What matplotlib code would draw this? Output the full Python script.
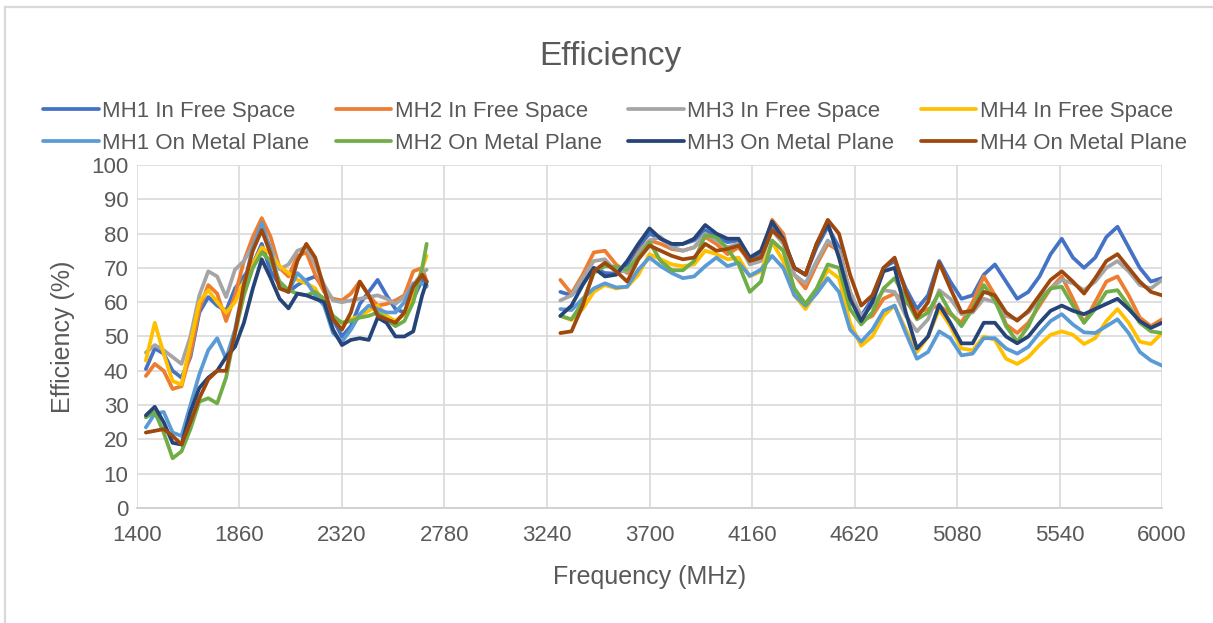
import matplotlib
matplotlib.use('Agg')
import matplotlib.pyplot as plt

plt.rcParams['font.family'] = ['Liberation Sans', 'DejaVu Sans']

# frequency samples (MHz) for the two measured bands
freq_low = [1440, 1480, 1520, 1560, 1600, 1640, 1680, 1720, 1760, 1800, 1840,
            1880, 1920, 1960, 2000, 2040, 2080, 2120, 2160, 2200, 2240, 2280,
            2320, 2360, 2400, 2440, 2480, 2520, 2560, 2600, 2640, 2680, 2700]
freq_high = list(range(3300, 6001, 50))

# efficiency (%)
mh1_free_low = [40.5, 46.5, 45, 40, 38, 44, 57, 61.5, 59, 57.5, 64, 67.5, 71, 77, 69, 65, 63,
                65, 66.5, 67.5, 64, 55, 50, 53, 59.5, 63, 66.5, 62, 58, 57, 61, 66.5, 65]
mh2_free_low = [38.5, 42, 40, 34.7, 35.5, 45, 58, 65, 62.5, 54.5, 62, 72, 79, 84.5, 79, 70, 67.5,
                73.5, 74.5, 68, 63, 61, 60.5, 62.5, 66, 62, 59, 59.5, 60.5, 62, 69, 70, 66]
mh3_free_low = [45.3, 47.5, 46, 44, 42, 50, 62, 69, 67.5, 61.5, 69.5, 72, 76.5, 81, 76, 69.6, 71,
                75, 76, 71, 65, 60.5, 60, 60.5, 61, 61.5, 62, 61, 59.5, 61.5, 65, 68.5, 69.5]
mh4_free_low = [43, 54, 45, 37, 36, 48, 60, 63.5, 60, 57, 60, 66, 71, 76, 74, 70.5, 68.5,
                66.5, 65.5, 64, 59, 55, 54, 55, 56, 57.5, 59, 56, 54.5, 56.5, 61, 70, 73.5]
mh1_metal_low = [23.5, 27.5, 28, 22, 21, 30, 39, 46, 49.5, 43.5, 52, 65, 76, 83, 75, 65, 63,
                 68.5, 66, 62, 59, 51, 48.5, 52, 56.5, 59, 58, 57, 57, 60, 65.5, 65.5, 64.5]
mh2_metal_low = [26.4, 28, 22, 14.5, 16.5, 23, 31, 32, 30.5, 38, 51, 62, 70, 74.5, 72, 66, 63.5,
                 62.5, 62, 63, 61, 56, 54, 54.5, 55.5, 56, 57, 55, 53, 54.5, 60, 70, 77]
mh3_metal_low = [27, 29.5, 25, 19, 18.5, 28, 35, 38, 40, 44, 47, 54, 64, 72.5, 67, 61, 58.2,
                 62.5, 62, 61, 60, 52, 47.5, 49, 49.5, 49, 55.5, 54, 50, 50, 51.5, 62, 66]
mh4_metal_low = [22, 22.5, 23, 21, 18.5, 25, 32, 37.5, 40, 40, 51, 65, 75, 81, 74, 64, 63,
                 72, 77, 73, 64, 55, 52, 57, 66, 62, 56, 55, 54, 57, 64.5, 68, 66]

mh1_free_high = [63, 62, 66, 70, 68.5, 68.3, 71, 76, 80, 78.5, 76.5, 77, 78, 81, 79, 77.5, 78, 73,
                 74, 82, 78, 70, 68, 76, 82, 76, 62, 56, 61, 70, 72, 64, 58, 62, 72, 66, 61, 62,
                 68, 71, 66, 61, 63, 67.5, 74, 78.5, 73, 70, 73, 79, 82, 76, 70, 66, 67]
mh2_free_high = [66.5, 62.5, 68, 74.5, 75, 71, 68.5, 74.5, 78, 77, 75.5, 75, 76, 79, 77, 74, 76,
                 72, 73, 84, 80, 68, 64, 71, 77, 75, 63, 54.5, 56, 61, 62.5, 60, 57, 58, 59, 56.5,
                 54, 60, 67.5, 62, 53.5, 51, 54, 59, 64, 67.5, 61, 54, 60, 66, 67.5, 62, 55.5, 53, 55]
mh3_free_high = [60.5, 62, 67, 72, 72.5, 69, 69, 74, 78, 79, 76, 75, 76, 80, 78, 76, 77, 71, 72,
                 81, 77, 68, 65.5, 72, 78, 75, 63, 56, 59, 63.5, 63, 56, 51.5, 55, 63.5, 61, 56.5,
                 57, 61, 60, 56, 55, 57, 61, 64, 66.5, 65.5, 63.5, 66, 70, 72, 69, 65, 64, 66.5]
mh4_free_high = [56, 54.8, 58, 63, 65, 64, 64.5, 68, 74, 72.5, 71, 70.5, 71, 75, 74, 72.5, 73,
                 67.5, 69, 77.5, 72, 62, 58, 63, 69.5, 67, 54, 47.3, 50, 56, 59, 52, 45.5, 50, 58,
                 53, 46.5, 46, 50, 49, 43.5, 42, 44, 47.5, 50.5, 51.5, 50.5, 47.8, 49.5, 54.5, 58,
                 54, 48.5, 47.8, 51]
mh1_metal_high = [58, 57.7, 61, 64, 65.5, 64.3, 64.5, 69.5, 73, 70.5, 68.5, 67, 67.5, 70.5, 73,
                  70.5, 71.5, 67.7, 69.5, 73.5, 70, 62, 59, 62.5, 67, 63, 52, 48.5, 52, 57.5, 59,
                  51, 43.5, 45.5, 51.5, 49.5, 44.5, 45, 49.5, 49.5, 46.5, 45, 47, 51, 54.5, 56.5,
                  53.5, 51.2, 51, 53, 55, 51, 45.5, 43, 41.5]
mh2_metal_high = [56, 55, 60, 68.5, 70.5, 70.3, 69.5, 73, 77.5, 72, 69.3, 69.3, 72, 79.5, 79,
                  75.5, 71, 63, 66, 78, 75, 64, 59.5, 64, 71, 70, 58, 53.5, 57, 64, 67, 61, 55,
                  57, 62.8, 57, 53, 58, 65, 60.5, 53, 48.5, 53, 60, 64, 64.5, 59, 54, 58, 63,
                  63.5, 59, 54, 51.5, 51]
mh3_metal_high = [56, 59, 65, 70, 67.5, 68, 72, 77, 81.5, 78.5, 77, 77, 78.5, 82.5, 80, 78.5,
                  78.5, 73, 75, 83.5, 78.5, 70, 68, 77, 83, 73, 61, 54.5, 60, 69, 70, 57, 46.5,
                  50, 59.3, 54, 48, 48, 54, 54, 50, 48, 50, 54, 57.5, 59, 57.5, 56.5, 58, 59.5,
                  61, 58, 54.5, 52.5, 54]
mh4_metal_high = [51, 51.5, 59, 69, 71.5, 69, 66, 72.5, 76.5, 75, 73.5, 72.5, 73, 77, 75, 75.5,
                  76.5, 72, 73, 81, 78, 70, 68, 77, 84, 80, 68, 59, 62, 70, 73, 63, 55.5, 60,
                  71.5, 64, 57, 57.5, 63, 62, 57, 54.6, 57.5, 62, 66.5, 69, 66, 62.5, 67, 72,
                  74, 70, 66, 63, 62]

labels = ['MH1 In Free Space', 'MH2 In Free Space', 'MH3 In Free Space', 'MH4 In Free Space',
          'MH1 On Metal Plane', 'MH2 On Metal Plane', 'MH3 On Metal Plane', 'MH4 On Metal Plane']
colors = ['#4472C4', '#ED7D31', '#A5A5A5', '#FFC000',
          '#5B9BD5', '#70AD47', '#264478', '#9E480E']
low = [mh1_free_low, mh2_free_low, mh3_free_low, mh4_free_low,
       mh1_metal_low, mh2_metal_low, mh3_metal_low, mh4_metal_low]
high = [mh1_free_high, mh2_free_high, mh3_free_high, mh4_free_high,
        mh1_metal_high, mh2_metal_high, mh3_metal_high, mh4_metal_high]

x_ticks = [1400, 1860, 2320, 2780, 3240, 3700, 4160, 4620, 5080, 5540, 6000]
y_ticks = [0, 10, 20, 30, 40, 50, 60, 70, 80, 90, 100]

txt = '#595959'
grid = '#D9D9D9'

fig = plt.figure(figsize=(12.13, 6.23), dpi=100)
ax = fig.add_axes([0.1129, 0.1846, 0.8451, 0.5506])

handles = []
for lab, col, lo, hi in zip(labels, colors, low, high):
    h, = ax.plot(freq_low, lo, color=col, lw=2.7, solid_joinstyle='round',
                 solid_capstyle='round', label=lab)
    ax.plot(freq_high, hi, color=col, lw=2.7, solid_joinstyle='round',
            solid_capstyle='round')
    handles.append(h)

ax.set_xlim(1400, 6000)
ax.set_ylim(0, 100)
ax.set_xticks(x_ticks)
ax.set_yticks(y_ticks)
ax.grid(True, color=grid, lw=1.2)
ax.set_axisbelow(True)
for s in ['top', 'right', 'left']:
    ax.spines[s].set_visible(False)
ax.spines['bottom'].set_color('#CFCFCF')
ax.spines['bottom'].set_linewidth(1.3)
ax.tick_params(length=0, labelsize=16, labelcolor=txt)
ax.tick_params(axis='y', pad=6)
ax.tick_params(axis='x', pad=12)

ax.set_xlabel('Frequency (MHz)', fontsize=18, color=txt, labelpad=14)
ax.set_ylabel('Efficiency (%)', fontsize=18, color=txt, labelpad=12)

fig.text(0.503, 0.91, 'Efficiency', fontsize=24, color=txt, ha='center', va='center')

# legend is filled column by column, so interleave the two rows
order = [0, 4, 1, 5, 2, 6, 3, 7]
leg = fig.legend([handles[i] for i in order], [labels[i] for i in order],
                 ncol=4, loc='center', bbox_to_anchor=(0.507, 0.795), frameon=False,
                 fontsize=16, handlelength=2.5, handletextpad=0.15, columnspacing=1.2,
                 labelspacing=0.5)
for t in leg.get_texts():
    t.set_color(txt)

# outer chart frame (only top and left edges visible)
fig.add_artist(plt.Line2D([0.0045, 1.0], [0.9888, 0.9888], color=grid, lw=1.6,
                          transform=fig.transFigure))
fig.add_artist(plt.Line2D([0.0045, 0.0045], [0.0, 0.9888], color=grid, lw=1.6,
                          transform=fig.transFigure))

fig.savefig('out.png', dpi=100)
